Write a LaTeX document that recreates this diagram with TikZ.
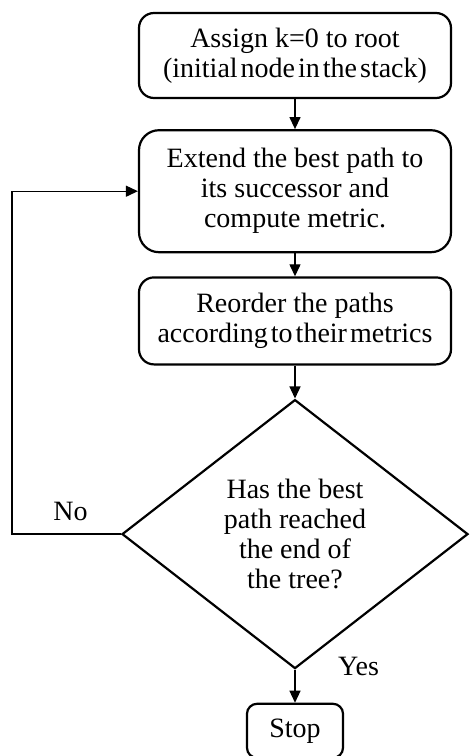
\documentclass[tikz,border=0pt]{standalone}
\usepackage{fontspec}
\setmainfont{Liberation Serif}
\usetikzlibrary{
	shapes.geometric,
	positioning,
	arrows.meta
}
\newcommand{\tight}[1]{{\spaceskip=3pt\relax #1}}

\begin{document}
\begin{tikzpicture}[
		x=1pt, y=1pt,
		font=\fontsize{28}{30}\selectfont,
		process/.style={draw, line width=2.2pt, rounded corners=15pt, align=center, minimum width=312pt, inner sep=0pt},
		decision/.style={draw, diamond, line width=2.2pt, align=center, aspect=1.286, minimum width=346pt, minimum height=269pt, inner sep=0pt},
		flow/.style={-{Triangle[length=12pt,width=11pt]}, line width=1.3pt},
		tag/.style={inner sep=3pt}
	]
		\useasboundingbox (0,0) rectangle (474,-756);

		\draw
			node[process,minimum height=85pt] (assign) at (295,-55.5) {Assign k=0 to root\\\tight{(initial node in the stack)}}
			node[process,minimum height=122pt,rounded corners=20pt,below=30pt of assign] (extend) {Extend the best path to\\its successor and\\compute metric.}
			node[process,minimum height=87pt,below=23pt of extend] (reorder) {Reorder the paths\\\tight{according to their metrics}}
			node[decision,below=33pt of reorder] (test) {Has the best\\path reached\\the end of\\the tree?}
			node[process,minimum width=96pt,minimum height=54pt,rounded corners=10pt,below=33pt of test] (stop) {Stop}

			(assign)  edge[flow] (extend)
			(extend)  edge[flow] (reorder)
			(reorder) edge[flow] (test)
			(test)    edge[flow] (stop)
		;

		% back to the extension step
		\draw[flow] (test.west) -- node[tag,above,xshift=4pt,yshift=10pt] (no) {No} ++(-109,0) |- (extend.west);
		\node[tag,right=40pt of test.south,yshift=3pt] (yes) {Yes};
	\end{tikzpicture}
\end{document}
